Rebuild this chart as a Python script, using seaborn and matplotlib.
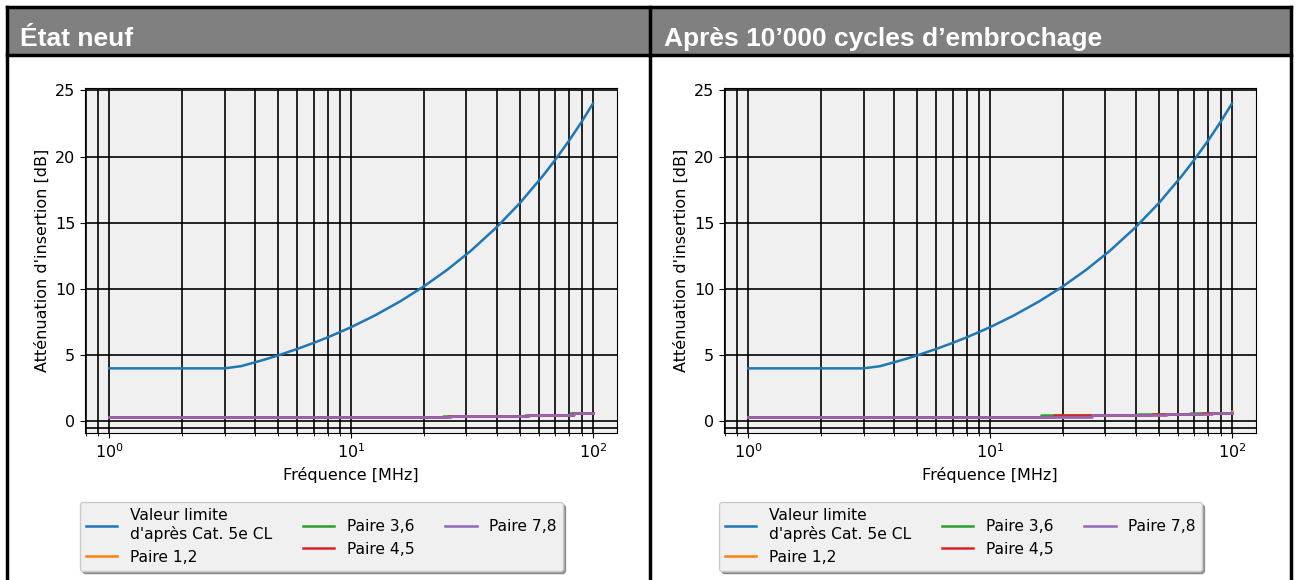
import matplotlib
matplotlib.use("Agg")
import matplotlib.pyplot as plt
import seaborn as sns
from matplotlib.patches import Rectangle
from matplotlib.lines import Line2D

# --- données ---------------------------------------------------------------
titres = ["État neuf", "Après 10\u2019000 cycles d\u2019embrochage"]

freq_limite = [1, 2, 3, 3.5, 4, 4.5, 5, 6, 7, 8, 9, 10, 12.5, 16, 20, 25, 31.25,
               40, 50, 62.5, 70, 80, 90, 100]
att_limite = [4.0, 4.0, 4.0, 4.16, 4.45, 4.72, 4.98, 5.47, 5.92, 6.34, 6.74, 7.11,
              7.98, 9.07, 10.19, 11.45, 12.87, 14.66, 16.5, 18.6, 19.77, 21.24,
              22.64, 24.0]

labels_paires = ["Paire 1,2", "Paire 3,6", "Paire 4,5", "Paire 7,8"]

# état neuf
neuf_f12 = [1, 25, 54, 83, 100]
neuf_v12 = [0.3, 0.4, 0.5, 0.6, 0.6]
neuf_f36 = [1, 24, 52.5, 80.5, 100]
neuf_v36 = [0.3, 0.41, 0.51, 0.61, 0.61]
neuf_f45 = [1, 25.5, 54, 83, 100]
neuf_v45 = [0.3, 0.4, 0.5, 0.6, 0.6]
neuf_f78 = [1, 26, 54.5, 83.5, 100]
neuf_v78 = [0.3, 0.4, 0.5, 0.6, 0.6]

# après 10'000 cycles
cyc_f12 = [1, 26, 54, 83, 100]
cyc_v12 = [0.3, 0.45, 0.55, 0.65, 0.75]
cyc_f36 = [1, 16.3, 41, 67, 100]
cyc_v36 = [0.3, 0.45, 0.55, 0.66, 0.66]
cyc_f45 = [1, 18.4, 46.6, 75, 100]
cyc_v45 = [0.3, 0.45, 0.55, 0.65, 0.65]
cyc_f78 = [1, 26.5, 53.6, 83, 100]
cyc_v78 = [0.3, 0.45, 0.55, 0.65, 0.65]

paires = [
    [(neuf_f12, neuf_v12), (neuf_f36, neuf_v36), (neuf_f45, neuf_v45), (neuf_f78, neuf_v78)],
    [(cyc_f12, cyc_v12), (cyc_f36, cyc_v36), (cyc_f45, cyc_v45), (cyc_f78, cyc_v78)],
]

couleurs = sns.color_palette("tab10", 5)

W, H = 1298, 580
fig = plt.figure(figsize=(W / 100, H / 100), dpi=100)
plt.rcParams["font.size"] = 11.5


def fx(x):
    return x / W


def fy(y):
    return 1 - y / H


# --- tableau (en-têtes gris + bordures) ------------------------------------
fig.add_artist(Rectangle((fx(7), fy(54)), fx(1291 - 7), 47 / H,
                         transform=fig.transFigure, facecolor="#808080", edgecolor="none"))
for (x0, y0, x1, y1) in [(7, 7, 1291, 7), (7, 55, 1291, 55), (7, 7, 7, 580),
                         (650, 7, 650, 580), (1291, 7, 1291, 580)]:
    fig.add_artist(Line2D([fx(x0), fx(x1)], [fy(y0), fy(y1)], transform=fig.transFigure,
                          color="black", linewidth=2.5))

for titre, xt in zip(titres, [20, 664]):
    fig.text(fx(xt), fy(39), titre, ha="left", va="center", color="white",
             fontsize=19, fontweight="bold", family="Liberation Sans")

# --- graphiques ---------------------------------------------------------------
gauches = [85, 724]
for i, g in enumerate(gauches):
    ax = fig.add_axes([fx(g), fy(433), fx(532), 345 / H])
    ax.set_facecolor("#f0f0f0")

    sns.lineplot(x=freq_limite, y=att_limite, ax=ax, color=couleurs[0],
                 label="Valeur limite\nd'après Cat. 5e CL", linewidth=1.8)
    for k, (f, v) in enumerate(paires[i]):
        sns.lineplot(x=f, y=v, ax=ax, color=couleurs[k + 1], label=labels_paires[k],
                     drawstyle="steps-post", linewidth=1.8)

    ax.set_xscale("log")
    ax.grid(True, which="both", color="black", linewidth=1.2)
    ax.axhline(-0.5, color="black", linewidth=1.2, zorder=0.5)
    ax.set_axisbelow(True)
    ax.set_yticks([0, 5, 10, 15, 20, 25])
    ax.tick_params(labelsize=11.5)
    ax.set_xlabel("Fréquence [MHz]", fontsize=11.5)
    ax.set_ylabel("Atténuation d'insertion [dB]", fontsize=11.5)

    ax.legend(ncol=3, loc="upper left", bbox_to_anchor=(-0.0094, -0.2), borderaxespad=0,
              shadow=True, fancybox=True, facecolor="#f0f0f0", fontsize=11.2)

fig.savefig("out.png", dpi=100)
